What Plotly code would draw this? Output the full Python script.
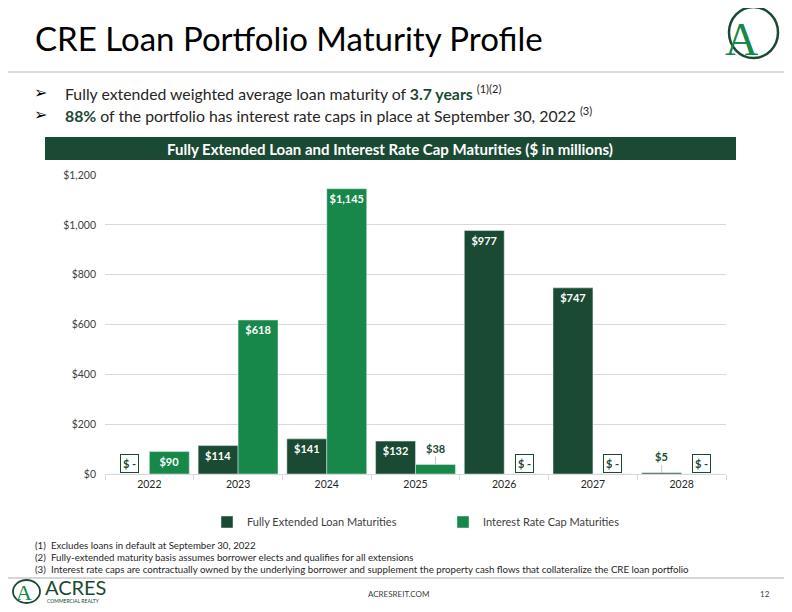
import plotly.graph_objects as go

# data ($ in millions)
years = ["2022", "2023", "2024", "2025", "2026", "2027", "2028"]
loan_maturities = [0, 114, 141, 132, 977, 747, 5]
cap_maturities = [90, 618, 1145, 38, 0, 0, 0]
y_ticks = [0, 200, 400, 600, 800, 1000, 1200]

DARK = "#1a4a33"
GREEN = "#17884a"
OFF = 8  # page margin around the plot div
W, H = 792 - 2 * OFF, 612 - 2 * OFF
# plot area in window pixels
L, R, T, B = 105, 726, 175, 474


def px(x):
    return (x - L) / (R - L)


def py(y):
    return (B - y) / (B - T)


def bar_text(vals, cutoff=50):
    return ["<b>$" + format(v, ",") + "</b>" if v >= cutoff else "" for v in vals]


def note(x, y, text, size, color="#262626", xanchor="left", family="Lato"):
    return dict(x=px(x), y=py(y), xref="paper", yref="paper", text=text, showarrow=False,
                xanchor=xanchor, yanchor="middle", font=dict(size=size, color=color, family=family))


fig = go.Figure()
fig.add_trace(go.Bar(
    x=years, y=loan_maturities, name="Fully Extended Loan Maturities",
    marker_color=DARK, text=bar_text(loan_maturities),
    textposition="inside", insidetextanchor="end", constraintext="none", textangle=0,
    insidetextfont=dict(color="white", size=11, family="Lato"),
))
fig.add_trace(go.Bar(
    x=years, y=cap_maturities, name="Interest Rate Cap Maturities",
    marker_color=GREEN, text=bar_text(cap_maturities),
    textposition="inside", insidetextanchor="end", constraintext="none", textangle=0,
    insidetextfont=dict(color="white", size=11, family="Lato"),
))

ann = []
# labels for zero and small values
for series, off in ((loan_maturities, -0.225), (cap_maturities, 0.225)):
    for i, v in enumerate(series):
        if v == 0:
            ann.append(dict(x=i + off, y=0, xref="x", yref="y", text="<b>$ -</b>",
                            showarrow=False, xanchor="center", yanchor="bottom", yshift=1,
                            font=dict(size=11, color=DARK, family="Lato"),
                            bgcolor="white", bordercolor=DARK, borderwidth=1, borderpad=2))
        elif v < 50:
            ann.append(dict(x=i + off, y=v, xref="x", yref="y", text="<b>$%d</b>" % v,
                            showarrow=True, arrowhead=0, arrowwidth=0.6, arrowcolor="#a0a0a0",
                            ax=0, ay=-8, standoff=0, xanchor="center", yanchor="bottom",
                            font=dict(size=11, color=DARK, family="Lato")))

# title and bullets
ann.append(note(33, 38, "CRE Loan Portfolio Maturity Profile", 33, color="black"))
bullets = [
    (93, "Fully extended weighted average loan maturity of <b><span style='color:%s'>3.7 years</span></b> <sup>(1)(2)</sup>" % DARK),
    (115, "<b><span style='color:%s'>88%%</span></b> of the portfolio has interest rate caps in place at September 30, 2022 <sup>(3)</sup>" % DARK),
]
for yy, txt in bullets:
    ann.append(note(32, yy, "➢", 16, color="black", family="DejaVu Sans"))
    ann.append(note(63, yy, txt, 15.8))

ann.append(note(390, 148.5, "<b>Fully Extended Loan and Interest Rate Cap Maturities ($ in millions)</b>",
                15, color="white", xanchor="center"))

# footnotes
notes = [
    "Excludes loans in default at September 30, 2022",
    "Fully-extended maturity basis assumes borrower elects and qualifies for all extensions",
    "Interest rate caps are contractually owned by the underlying borrower and supplement the property cash flows that collateralize the CRE loan portfolio",
]
for k, n in enumerate(notes):
    yy = 545 + 12 * k
    ann.append(note(33, yy, "(%d)" % (k + 1), 9.7))
    ann.append(note(49, yy, n, 9.7))

# footer
ann.append(note(398, 594, "ACRESREIT.COM", 8, color="#404040", xanchor="center"))
ann.append(note(765, 594, "12", 8, color="#404040", xanchor="center"))
ann.append(note(43, 587, "ACRES", 20, color=DARK, family="Liberation Sans Narrow, Lato"))
ann.append(note(45, 601, "COMMERCIAL REALTY", 5, color=DARK))
# logo letters
ann.append(note(741, 39, "A", 46, color=GREEN, xanchor="center", family="Liberation Serif"))
ann.append(note(24, 592, "A", 22, color=GREEN, xanchor="center", family="Liberation Serif"))

shapes = [
    dict(type="line", xref="paper", yref="paper", x0=px(0), x1=px(792), y0=py(72), y1=py(72),
         line=dict(color="#d0d0d0", width=1.5)),
    dict(type="rect", xref="paper", yref="paper", x0=px(45), x1=px(736), y0=py(137), y1=py(160),
         fillcolor=DARK, line=dict(width=0), layer="above"),
    dict(type="line", xref="paper", yref="paper", x0=px(0), x1=px(792), y0=py(578), y1=py(578),
         line=dict(color="#c8c8c8", width=1.5)),
    dict(type="circle", xref="paper", yref="paper", x0=px(729), x1=px(778), y0=py(7), y1=py(58),
         line=dict(color=DARK, width=2.5)),
    dict(type="circle", xref="paper", yref="paper", x0=px(13), x1=px(40), y0=py(580), y1=py(603),
         line=dict(color=DARK, width=1.8)),
]

fig.update_layout(
    width=W, height=H,
    margin=dict(l=L - OFF, r=W - (R - OFF), t=T - OFF, b=H - (B - OFF), pad=0),
    paper_bgcolor="white", plot_bgcolor="white",
    barmode="group", bargap=0.1, bargroupgap=0,
    font=dict(family="Lato", color="#404040"),
    showlegend=True,
    legend=dict(orientation="h", x=px(207), xanchor="left", y=py(522), yanchor="middle",
                font=dict(size=11, color="#404040"), entrywidth=191, entrywidthmode="pixels",
                itemwidth=30, traceorder="normal"),
    annotations=ann,
    shapes=shapes,
)
fig.update_xaxes(type="category", showline=True, linecolor="#d9d9d9", linewidth=1,
                 ticks="outside", tickson="boundaries", ticklen=5, tickcolor="#d9d9d9",
                 tickfont=dict(size=10.5, color="#262626"), showgrid=False)
fig.update_yaxes(range=[0, 1200], tickmode="array", tickvals=y_ticks,
                 ticktext=["$" + format(v, ",") for v in y_ticks],
                 showgrid=True, gridcolor="#d9d9d9", gridwidth=1, zeroline=False,
                 tickfont=dict(size=10.5, color="#404040"), ticklabelstandoff=8)

fig.write_html("out.html")
